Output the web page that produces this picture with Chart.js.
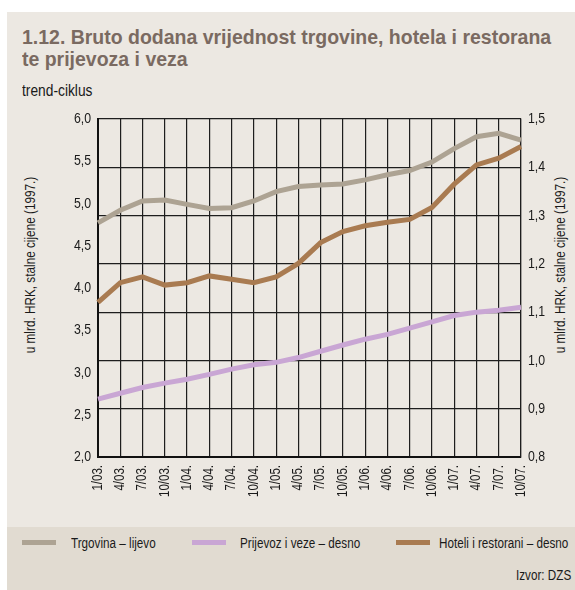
<!DOCTYPE html>
<html>
<head>
<meta charset="utf-8">
<script src="https://cdn.jsdelivr.net/npm/chart.js@4"></script>
<style>
  body { margin: 0; background: #fff; font-family: "Liberation Sans", Arial, sans-serif; }
  #wrap { position: relative; width: 575px; height: 590px; overflow: hidden; }
  .abs { position: absolute; white-space: nowrap; }
  .narrow { transform: scaleX(0.835); transform-origin: 0 0; }
  #panel { left: 7px; top: 12px; width: 568px; height: 578px; background: #ece8e2; }
  #band { left: 7px; top: 527px; width: 568px; height: 63px; background: #e1dbd1; }
  #title { left: 22px; top: 26px; font-size: 20.5px; font-weight: bold; color: #7a6a61; line-height: 22px;
    transform: scaleX(0.95); transform-origin: 0 0; }
  #sub { left: 22px; top: 81px; font-size: 16.5px; color: #1a1a1a; }
  .ytitle { font-size: 14px; color: #1a1a1a; transform: translate(-50%, -50%) rotate(-90deg) scaleX(0.84); }
  .sw { height: 5px; width: 34px; }
  .lt { font-size: 14px; color: #1a1a1a; }
  #src { left: 516px; top: 567px; font-size: 14px; color: #1a1a1a; }
  canvas { position: absolute; left: 0; top: 0; }
</style>
</head>
<body>
<div id="wrap">
  <div id="panel" class="abs"></div>
  <div id="band" class="abs"></div>
  <div id="title" class="abs">1.12. Bruto dodana vrijednost trgovine, hotela i restorana<br>te prijevoza i veza</div>
  <div id="sub" class="abs narrow">trend-ciklus</div>
  <div class="abs ytitle" style="left:30px; top:265px;">u mlrd. HRK, stalne cijene (1997.)</div>
  <div class="abs ytitle" style="left:560px; top:265px;">u mlrd. HRK, stalne cijene (1997.)</div>
  <div id="legend"></div>
  <div id="src" class="abs narrow">Izvor: DZS</div>
  <canvas id="chart" width="575" height="590"></canvas>
</div>
<script>
const quarters = [
  "1/03.", "4/03.", "7/03.", "10/03.", "1/04.", "4/04.", "7/04.", "10/04.",
  "1/05.", "4/05.", "7/05.", "10/05.", "1/06.", "4/06.", "7/06.", "10/06.",
  "1/07.", "4/07.", "7/07.", "10/07."
];

// lijeva os
const trgovina = [4.77, 4.92, 5.03, 5.04, 4.99, 4.94, 4.95, 5.03, 5.14, 5.20,
  5.22, 5.23, 5.28, 5.34, 5.39, 5.49, 5.65, 5.79, 5.83, 5.75];

// desna os
const prijevoz = [0.920, 0.932, 0.944, 0.953, 0.961, 0.971, 0.982, 0.991, 0.996, 1.006,
  1.019, 1.032, 1.044, 1.054, 1.067, 1.080, 1.093, 1.100, 1.104, 1.110];
const hoteli = [1.120, 1.161, 1.173, 1.156, 1.161, 1.175, 1.168, 1.161, 1.173, 1.201,
  1.244, 1.267, 1.279, 1.286, 1.292, 1.317, 1.365, 1.405, 1.419, 1.443];

const seriesNames = ["Trgovina – lijevo", "Prijevoz i veze – desno", "Hoteli i restorani – desno"];
const seriesColors = ["#ada393", "#c9a6d4", "#a97b51"];

// legenda (html)
const legendPos = [[22, 71], [192, 240], [396, 439]];
const legend = document.getElementById("legend");
seriesNames.forEach((name, i) => {
  const sw = document.createElement("div");
  sw.className = "abs sw";
  sw.style.left = legendPos[i][0] + "px";
  sw.style.top = "540px";
  sw.style.background = seriesColors[i];
  legend.appendChild(sw);
  const t = document.createElement("div");
  t.className = "abs lt narrow";
  t.style.left = legendPos[i][1] + "px";
  t.style.top = "535px";
  t.textContent = name;
  legend.appendChild(t);
});

// nema Arial Narrow -> stisni tekst na canvasu
const narrowText = {
  id: "narrowText",
  beforeDraw(chart) {
    const ctx = chart.ctx;
    if (ctx._narrow) return;
    const fill = ctx.fillText.bind(ctx);
    ctx.fillText = (text, x, y) => {
      ctx.save();
      ctx.translate(x, y);
      ctx.scale(0.82, 1);
      fill(text, 0, 0);
      ctx.restore();
    };
    ctx._narrow = true;
  }
};

const fmt = (v) => v.toFixed(1).replace(".", ",");
const font = { family: "'Liberation Sans', Arial, sans-serif", size: 15 };

new Chart(document.getElementById("chart"), {
  type: "line",
  data: {
    labels: quarters,
    datasets: [
      { label: seriesNames[0], data: trgovina, yAxisID: "y", borderColor: seriesColors[0] },
      { label: seriesNames[1], data: prijevoz, yAxisID: "y1", borderColor: seriesColors[1] },
      { label: seriesNames[2], data: hoteli, yAxisID: "y1", borderColor: seriesColors[2] }
    ].map((d) => Object.assign(d, { borderWidth: 5, pointRadius: 0, tension: 0, fill: false }))
  },
  plugins: [narrowText],
  options: {
    responsive: false,
    animation: false,
    layout: { padding: { top: 119, left: 20, right: 9, bottom: 73 } },
    plugins: { legend: { display: false }, tooltip: { enabled: false } },
    scales: {
      x: {
        offset: false,
        grid: { color: "#1e1e1e", lineWidth: 1.2, drawTicks: false },
        border: { color: "#111", width: 2 },
        ticks: {
          autoSkip: false, minRotation: 90, maxRotation: 90, padding: 8,
          color: "#1a1a1a", font: Object.assign({}, font, { size: 14 })
        },
        afterFit: (s) => { s.height = 60; }
      },
      y: {
        position: "left",
        min: 2, max: 6,
        grid: { display: false, drawTicks: false },
        border: { color: "#111", width: 2 },
        ticks: { stepSize: 0.5, padding: 7, color: "#1a1a1a", font: font, callback: fmt },
        afterFit: (s) => { s.width = 78; }
      },
      y1: {
        position: "right",
        min: 0.8, max: 1.5,
        grid: { color: "#1e1e1e", lineWidth: 1.2, drawTicks: false },
        border: { color: "#1e1e1e", width: 1.2 },
        ticks: { stepSize: 0.1, padding: 7, color: "#1a1a1a", font: font, callback: fmt },
        afterFit: (s) => { s.width = 45; }
      }
    }
  }
});
</script>
</body>
</html>
